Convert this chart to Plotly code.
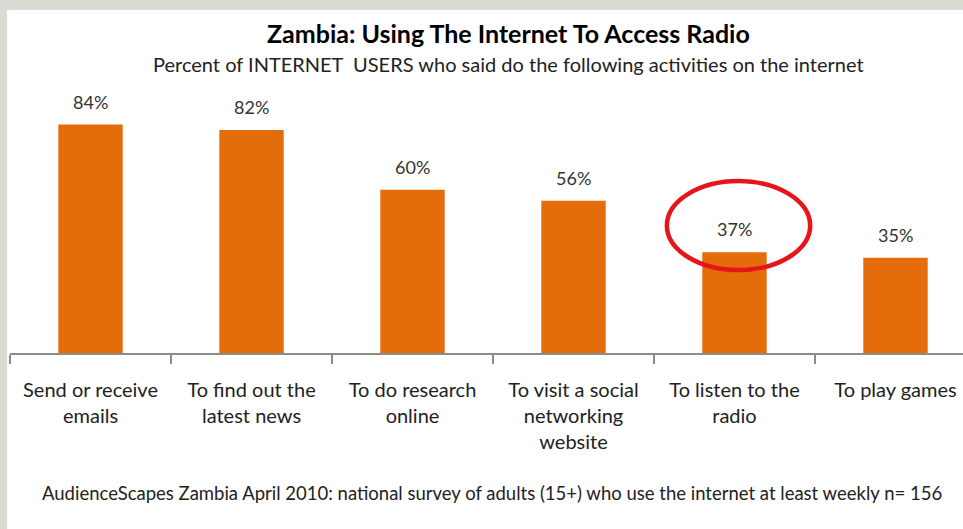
import plotly.graph_objects as go

categories = ["Send or receive<br>emails", "To find out the<br>latest news", "To do research<br>online",
              "To visit a social<br>networking<br>website", "To listen to the<br>radio", "To play games"]
values = [84, 82, 60, 56, 37, 35]
value_labels = ["84%", "82%", "60%", "56%", "37%", "35%"]
highlight_index = 4

title_text = "<b>Zambia: Using The Internet To Access Radio</b>"
subtitle_text = "Percent of INTERNET  USERS who said do the following activities on the internet"
source_text = "AudienceScapes Zambia April 2010: national survey of adults (15+) who use the internet at least weekly n= 156"

W, H = 963, 529
L, R, T, B = 10, 0, 81, 176
FONT = "Lato"
BAR = "#E46C0A"

x_idx = list(range(len(categories)))

fig = go.Figure()
fig.add_trace(go.Bar(
    x=x_idx, y=values, width=0.4, marker=dict(color=BAR, line=dict(width=0)),
    hoverinfo="skip",
))

# value labels above the bars
for xi, v, lab in zip(x_idx, values, value_labels):
    fig.add_annotation(x=xi, y=v, xref="x", yref="y", text=lab, showarrow=False,
                       xanchor="center", yanchor="bottom", yshift=10,
                       font=dict(family=FONT, size=18, color="#333333"))

plot_w = W - L - R
cat_px = 161.0
x_max = -0.5 + plot_w / cat_px

fig.update_layout(
    width=W, height=H,
    margin=dict(l=L, r=R, t=T, b=B, pad=0),
    paper_bgcolor="#d9dbd5",
    plot_bgcolor="white",
    showlegend=False,
    xaxis=dict(
        range=[-0.5, x_max], tickmode="array", tickvals=x_idx, ticktext=categories,
        ticks="", showgrid=False, zeroline=False,
        showline=True, linecolor="#8c8c8c", linewidth=1.5,
        tickfont=dict(family=FONT, size=20, color="#222222"),
        ticklabelstandoff=18,
        minor=dict(tickmode="array", tickvals=[i - 0.5 for i in range(len(categories) + 1)],
                   ticks="outside", ticklen=9, tickcolor="#8c8c8c", tickwidth=1.5, showgrid=False),
        fixedrange=True,
    ),
    yaxis=dict(range=[0, 100], visible=False, fixedrange=True),
)

px_x = lambda p: (p - L) / plot_w
px_y = lambda p: (H - B - p) / (H - T - B)
fig.add_shape(type="rect", xref="paper", yref="paper", layer="below",
              x0=px_x(7), x1=px_x(W + 5), y0=px_y(H + 5), y1=px_y(10),
              fillcolor="white", line=dict(width=0))

hv = values[highlight_index]
fig.add_shape(type="circle", xref="x", yref="y",
              x0=highlight_index - 0.42, x1=highlight_index + 0.47,
              y0=hv - 6.5, y1=hv + 26.2,
              line=dict(color="#E8141B", width=4.5))

fig.add_annotation(text=title_text, xref="paper", yref="paper", x=px_x(508), y=px_y(33),
                   xanchor="center", yanchor="middle",
                   showarrow=False, font=dict(family=FONT, size=25, color="#000000"))
fig.add_annotation(text=subtitle_text, xref="paper", yref="paper", x=px_x(508), y=px_y(64),
                   xanchor="center", yanchor="middle",
                   showarrow=False, font=dict(family=FONT, size=20, color="#222222"))
fig.add_annotation(text=source_text, xref="paper", yref="paper", x=px_x(492), y=px_y(493),
                   xanchor="center", yanchor="middle",
                   showarrow=False, font=dict(family=FONT, size=18.5, color="#222222"))

fig.write_html("out.html", config={"displayModeBar": False},
               post_script="document.body.style.margin='0px';document.body.style.overflow='hidden';")
